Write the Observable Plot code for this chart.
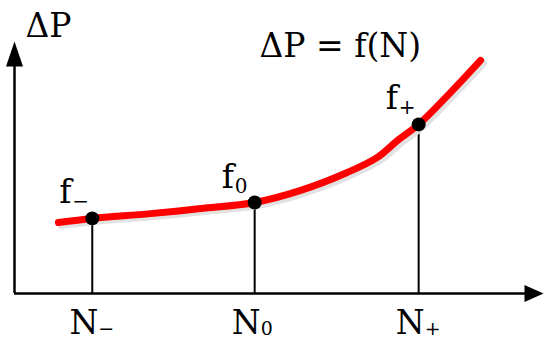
<!DOCTYPE html>
<html>
<head>
<meta charset="utf-8">
<script src="https://cdn.jsdelivr.net/npm/d3@7"></script>
<script src="https://cdn.jsdelivr.net/npm/@observablehq/plot@0.6"></script>
<style>
  html, body { margin: 0; padding: 0; background: #fff; }
  #chart svg { display: block; }
</style>
</head>
<body>
<div id="chart"></div>
<script>
// Curve ΔP = f(N) (schematic units)
const curveN = [0.83, 1.47, 2.57, 3.52, 4.54, 5.41, 6.29, 6.86, 7.24, 7.64, 8.19, 8.81];
const curveP = [2.82, 2.98, 3.17, 3.37, 3.61, 4.09, 4.80, 5.40, 6.07, 6.71, 7.86, 9.25];

// Marked points
const pointN = [1.47, 4.54, 7.64];
const pointF = [2.98, 3.61, 6.71];
const subscripts = ["\u2212", "0", "+"];

// Texts
const yAxisLabel = "ΔP";
const formula = "ΔP = f(N)";
const xBase = "N";
const fBase = "f";

const xMax = 10, yMax = 10;

const curve = curveN.map((n, i) => ({n, p: curveP[i]}));
const pts = pointN.map((n, i) => ({n, f: pointF[i], sub: subscripts[i]}));

const font = "DejaVu Serif";

const arrowY = {draw(ctx) { ctx.moveTo(0, 0); ctx.lineTo(8.5, 25); ctx.lineTo(-8.5, 25); ctx.closePath(); }};
const arrowX = {draw(ctx) { ctx.moveTo(0, 0); ctx.lineTo(8.5, 19); ctx.lineTo(-8.5, 19); ctx.closePath(); }};

const chart = Plot.plot({
  width: 545,
  height: 340,
  margin: 0,
  style: {fontFamily: font, background: "#fff"},
  x: {domain: [0, xMax], range: [14, 543], axis: null},
  y: {domain: [0, yMax], range: [293, 41], axis: null},
  marks: [
    // axes
    Plot.ruleY([0], {x1: 0, x2: xMax * 0.985, stroke: "black", strokeWidth: 2.5}),
    Plot.ruleX([0], {y1: 0, y2: yMax * 0.97, stroke: "black", strokeWidth: 2.5}),
    Plot.dot([{x: 0, y: yMax}], {x: "x", y: "y", symbol: arrowY, fill: "black", stroke: "none", r: 5}),
    Plot.dot([{x: xMax, y: 0}], {x: "x", y: "y", symbol: arrowX, rotate: 90, fill: "black", stroke: "none", r: 5}),
    // drop lines
    Plot.ruleX(pts, {x: "n", y1: 0, y2: "f", stroke: "black", strokeWidth: 2}),
    // curve shadow + curve
    Plot.line(curve, {x: "n", y: "p", curve: "catmull-rom", stroke: "#e2e2e2", strokeWidth: 7, strokeLinecap: "round", dx: 3, dy: 3}),
    Plot.line(curve, {x: "n", y: "p", curve: "catmull-rom", stroke: "#ff0000", strokeWidth: 7, strokeLinecap: "round", strokeLinejoin: "round"}),
    // points
    Plot.dot(pts, {x: "n", y: "f", r: 7, fill: "black", stroke: "none"}),
    // f labels
    Plot.text(pts, {x: "n", y: "f", text: () => fBase, textAnchor: "start", lineAnchor: "bottom", dx: -33, dy: -15, fontSize: 33, fontFamily: font, fill: "black"}),
    Plot.text(pts, {x: "n", y: "f", text: "sub", textAnchor: "start", lineAnchor: "bottom", dx: -20, dy: -10, fontSize: 20, fontFamily: font, fill: "black"}),
    // N labels
    Plot.text(pts, {x: "n", y: () => 0, text: () => xBase, textAnchor: "end", lineAnchor: "bottom", dx: 6, dy: 40, fontSize: 33, fontFamily: font, fill: "black"}),
    Plot.text(pts, {x: "n", y: () => 0, text: "sub", textAnchor: "start", lineAnchor: "bottom", dx: 6, dy: 41, fontSize: 19, fontFamily: font, fill: "black"}),
    // y-axis label
    Plot.text([yAxisLabel], {x: () => 0, y: () => yMax, text: d => d, textAnchor: "start", lineAnchor: "bottom", dx: 11, dy: -5, fontSize: 33, fontFamily: font, fill: "black"}),
    // formula
    Plot.text([formula], {frameAnchor: "top-left", text: d => d, textAnchor: "start", lineAnchor: "bottom", dx: 259, dy: 56, fontSize: 33, fontFamily: font, fill: "black"})
  ]
});

document.getElementById("chart").appendChild(chart);
</script>
</body>
</html>
